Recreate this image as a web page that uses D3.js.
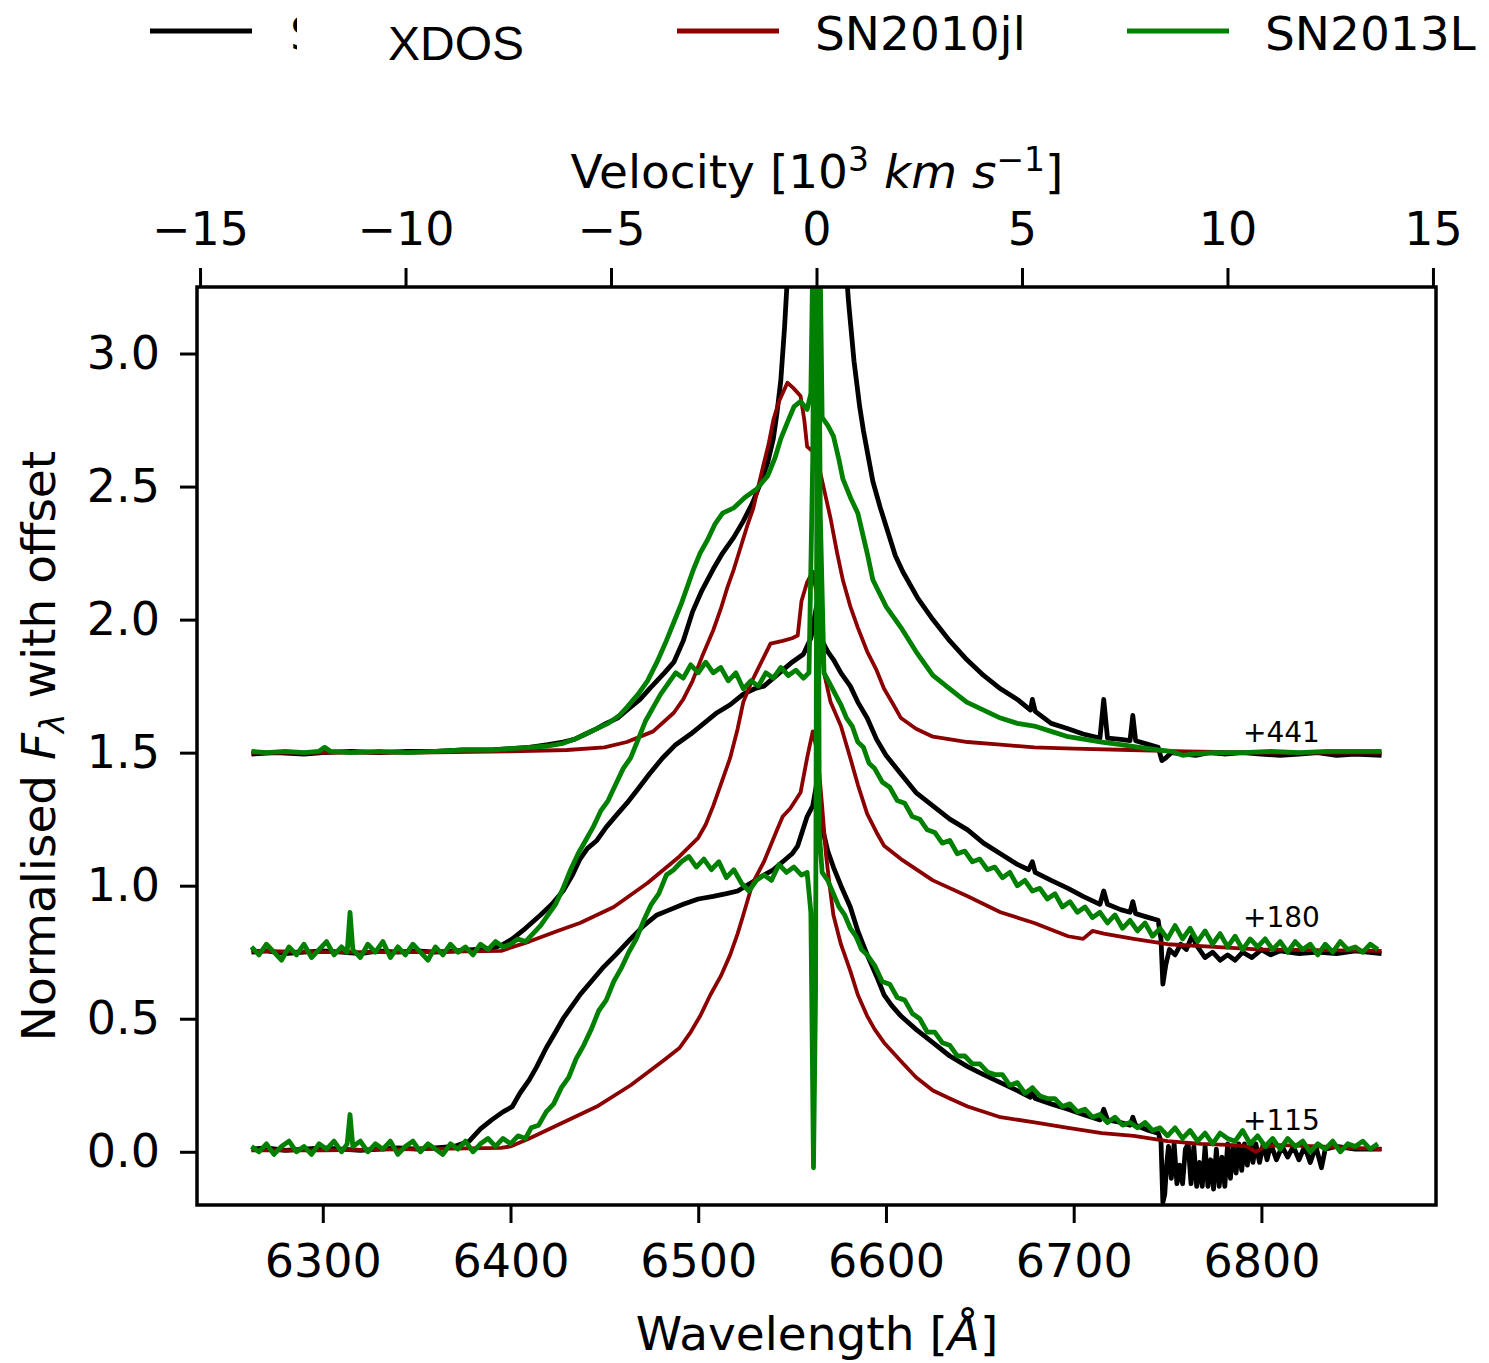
<!DOCTYPE html>
<html>
<head>
<meta charset="utf-8">
<script src="https://cdn.jsdelivr.net/npm/d3@7"></script>
<style>
body { margin: 0; background: #fff; }
text { font-family: "DejaVu Sans", sans-serif; fill: #000; }
</style>
</head>
<body>
<svg id="chart" width="1489" height="1363"></svg>
<script>
// tick values
const wavelengthTicks = [6300, 6400, 6500, 6600, 6700, 6800];
const velocityTicks = [-15, -10, -5, 0, 5, 10, 15];
const fluxTicks = [0, 0.5, 1.0, 1.5, 2.0, 2.5, 3.0];

// epoch labels (days) and where they sit
const epochLabels = ["+441", "+180", "+115"];
const epochLabelFlux = [1.54, 0.845, 0.08];

// legend names
const names = ["XDOS", "SN2010jl", "SN2013L"];

// ---- +441 d, offset 1.5 ----
const xdos441 = [[6262,1.495],[6275,1.50],[6290,1.495],[6300,1.50],[6315,1.505],[6330,1.50],[6345,1.505],[6360,1.505],[6375,1.51],[6390,1.51],[6400,1.515],[6410,1.52],[6420,1.53],[6428,1.54],[6434,1.55],[6440,1.57],[6446,1.59],[6451,1.61],[6457,1.63],[6462,1.66],[6469,1.70],[6474,1.74],[6478,1.77],[6482,1.80],[6487,1.84],[6492,1.92],[6497,2.03],[6502,2.11],[6508,2.19],[6513,2.25],[6519,2.31],[6524,2.37],[6529,2.44],[6533,2.51],[6537,2.59],[6540,2.68],[6542,2.78],[6544,2.90],[6546,3.10],[6548,3.35],[6552,3.8],[6556,4.5],[6560,5.5],[6563,6.0],[6566,5.5],[6570,4.6],[6574,3.9],[6578,3.4],[6580,3.20],[6583,2.97],[6586,2.80],[6588,2.71],[6593,2.52],[6597,2.42],[6601,2.33],[6605,2.24],[6609,2.18],[6617,2.08],[6625,2.00],[6634,1.92],[6643,1.85],[6652,1.79],[6661,1.74],[6670,1.70],[6677,1.66],[6678,1.70],[6679.5,1.655],[6688,1.61],[6697,1.59],[6705,1.57],[6714,1.555],[6716,1.70],[6718,1.555],[6725,1.55],[6730,1.545],[6731.5,1.64],[6733,1.545],[6740,1.53],[6745,1.52],[6747,1.47],[6749,1.48],[6752,1.50],[6758,1.495],[6765,1.49],[6772,1.50],[6780,1.495],[6790,1.50],[6800,1.495],[6810,1.49],[6820,1.495],[6830,1.50],[6840,1.49],[6850,1.495],[6864,1.49]];

const sn10jl441 = [[6262,1.50],[6300,1.50],[6350,1.50],[6400,1.505],[6430,1.51],[6450,1.52],[6462,1.54],[6476,1.58],[6487,1.65],[6492,1.70],[6497,1.77],[6502,1.86],[6508,1.96],[6512,2.04],[6515.5,2.12],[6519,2.19],[6522.5,2.27],[6526,2.35],[6529.4,2.42],[6532,2.50],[6534.7,2.58],[6537.5,2.66],[6540,2.75],[6543,2.82],[6547.5,2.89],[6550.7,2.87],[6554.5,2.84],[6556.5,2.75],[6558,2.65],[6561.4,2.63],[6563.5,2.60],[6566.7,2.50],[6570.5,2.38],[6574,2.25],[6577,2.15],[6581,2.05],[6585,1.97],[6590,1.88],[6595,1.81],[6599,1.74],[6604,1.68],[6608,1.63],[6616,1.59],[6625,1.56],[6643.5,1.54],[6661,1.53],[6679,1.52],[6700,1.515],[6730,1.51],[6760,1.505],[6800,1.50],[6864,1.50]];

const sn13L441 = [[6262,1.505],[6270,1.50],[6280,1.505],[6290,1.50],[6298,1.505],[6301,1.52],[6304,1.505],[6315,1.50],[6330,1.505],[6345,1.50],[6360,1.505],[6375,1.51],[6390,1.51],[6400,1.515],[6410,1.52],[6420,1.525],[6428,1.535],[6434,1.55],[6440,1.57],[6446,1.59],[6452,1.61],[6458,1.64],[6462,1.67],[6468,1.72],[6473,1.77],[6478,1.84],[6483,1.92],[6487,1.99],[6491,2.06],[6497,2.18],[6501,2.25],[6505,2.30],[6509,2.36],[6513,2.40],[6519,2.42],[6525,2.46],[6531,2.49],[6537,2.54],[6541,2.61],[6544,2.68],[6548,2.75],[6551,2.80],[6554.5,2.82],[6558,2.79],[6560,2.85],[6561.5,3.6],[6563,5.0],[6564.5,3.6],[6566,2.76],[6569,2.73],[6572,2.69],[6575,2.60],[6577,2.53],[6581,2.46],[6585,2.40],[6590,2.25],[6593,2.15],[6600,2.05],[6608,1.97],[6616,1.88],[6625,1.79],[6634,1.74],[6643,1.69],[6652,1.66],[6661,1.63],[6670,1.61],[6679,1.60],[6688,1.58],[6697,1.56],[6706,1.55],[6715,1.54],[6725,1.53],[6735,1.52],[6745,1.51],[6752,1.505],[6758,1.49],[6764,1.495],[6775,1.50],[6790,1.50],[6805,1.505],[6820,1.50],[6835,1.505],[6850,1.505],[6864,1.505]];

// ---- +180 d, offset 0.75 ----
const xdos180 = [[6262,0.75],[6270,0.755],[6280,0.745],[6290,0.75],[6300,0.755],[6310,0.75],[6320,0.745],[6330,0.755],[6340,0.75],[6350,0.755],[6360,0.75],[6370,0.755],[6380,0.76],[6390,0.765],[6395,0.775],[6401,0.80],[6408,0.84],[6416,0.89],[6422,0.93],[6428,0.98],[6433,1.04],[6437,1.10],[6441,1.14],[6446,1.17],[6451,1.22],[6457,1.27],[6462,1.31],[6467.5,1.36],[6474,1.42],[6481,1.48],[6488,1.53],[6496,1.57],[6503,1.61],[6510,1.65],[6517,1.68],[6524,1.72],[6530,1.74],[6535,1.75],[6540,1.78],[6545,1.81],[6550,1.84],[6556,1.87],[6560,1.93],[6563,2.05],[6566,1.92],[6569,1.88],[6572,1.85],[6576,1.80],[6581,1.75],[6585,1.69],[6590,1.63],[6595,1.55],[6600,1.49],[6608,1.42],[6616,1.35],[6625,1.30],[6634,1.25],[6643.5,1.21],[6652,1.16],[6661,1.12],[6670,1.08],[6676,1.06],[6678,1.09],[6679.5,1.05],[6688,1.02],[6697,0.99],[6705,0.96],[6714,0.93],[6716,0.98],[6718,0.93],[6725,0.91],[6730,0.90],[6731.5,0.94],[6733,0.895],[6740,0.88],[6745,0.87],[6746.5,0.80],[6747.5,0.63],[6749,0.70],[6751,0.76],[6754,0.74],[6757,0.78],[6760,0.76],[6763,0.81],[6766,0.77],[6770,0.73],[6774,0.75],[6778,0.72],[6782,0.74],[6786,0.72],[6790,0.75],[6795,0.73],[6800,0.76],[6805,0.74],[6810,0.755],[6820,0.745],[6830,0.75],[6840,0.745],[6850,0.755],[6864,0.745]];

const sn10jl180 = [[6262,0.755],[6300,0.75],[6350,0.75],[6395,0.755],[6410,0.79],[6425,0.83],[6437,0.86],[6455,0.92],[6473,1.01],[6490,1.11],[6500,1.18],[6504,1.23],[6508,1.30],[6512,1.38],[6517,1.48],[6521,1.59],[6524,1.69],[6528,1.76],[6531.5,1.81],[6535,1.86],[6538.5,1.91],[6545,1.92],[6550,1.93],[6553,1.94],[6555,2.07],[6558,2.14],[6561,2.18],[6563,2.10],[6565,1.95],[6567,1.80],[6570.5,1.69],[6576,1.60],[6581,1.48],[6585,1.38],[6590,1.27],[6595,1.20],[6599,1.15],[6608,1.10],[6625,1.02],[6643.5,0.96],[6661,0.90],[6679,0.86],[6697,0.81],[6705,0.80],[6710,0.83],[6716,0.82],[6732,0.80],[6750,0.78],[6775,0.77],[6800,0.76],[6864,0.755]];

const sn13L180 = [[6262,0.77],[6266,0.74],[6270,0.78],[6274,0.75],[6278,0.72],[6282,0.77],[6286,0.74],[6290,0.78],[6294,0.73],[6298,0.76],[6302,0.79],[6306,0.74],[6310,0.77],[6313,0.75],[6314.5,0.90],[6316,0.76],[6320,0.73],[6324,0.78],[6328,0.75],[6332,0.79],[6336,0.73],[6340,0.77],[6344,0.74],[6348,0.78],[6352,0.75],[6356,0.72],[6360,0.77],[6364,0.74],[6368,0.78],[6372,0.75],[6376,0.77],[6380,0.74],[6384,0.78],[6388,0.76],[6392,0.79],[6396,0.77],[6400,0.78],[6404,0.80],[6408,0.79],[6412,0.82],[6416,0.85],[6420,0.89],[6424,0.93],[6428,0.99],[6432,1.06],[6436,1.12],[6440,1.17],[6444,1.22],[6448,1.28],[6452,1.32],[6456,1.38],[6460,1.44],[6464,1.48],[6468,1.55],[6472,1.62],[6476,1.67],[6480,1.72],[6484,1.76],[6488,1.80],[6492,1.78],[6496,1.83],[6500,1.80],[6504,1.84],[6508,1.80],[6512,1.82],[6516,1.77],[6520,1.80],[6524,1.74],[6528,1.77],[6532,1.75],[6536,1.80],[6540,1.78],[6544,1.82],[6548,1.79],[6552,1.81],[6556,1.78],[6559,1.80],[6561,2.6],[6563,4.5],[6565,2.4],[6567,1.80],[6570,1.76],[6573,1.72],[6576,1.68],[6579,1.63],[6582,1.60],[6585,1.54],[6588,1.52],[6591,1.46],[6594,1.44],[6598,1.39],[6602,1.37],[6606,1.32],[6610,1.31],[6614,1.26],[6618,1.25],[6622,1.21],[6626,1.20],[6630,1.16],[6634,1.17],[6638,1.12],[6642,1.13],[6646,1.09],[6650,1.10],[6654,1.06],[6658,1.07],[6662,1.03],[6666,1.05],[6670,1.00],[6674,1.02],[6678,0.98],[6682,0.99],[6686,0.95],[6690,0.97],[6694,0.92],[6698,0.94],[6702,0.90],[6706,0.92],[6710,0.88],[6714,0.90],[6718,0.86],[6722,0.89],[6726,0.84],[6730,0.87],[6734,0.83],[6738,0.86],[6742,0.81],[6746,0.84],[6750,0.80],[6754,0.85],[6758,0.80],[6762,0.84],[6766,0.79],[6770,0.83],[6774,0.78],[6778,0.82],[6782,0.77],[6786,0.81],[6790,0.76],[6794,0.80],[6798,0.77],[6802,0.80],[6806,0.76],[6810,0.79],[6814,0.75],[6818,0.79],[6822,0.76],[6826,0.78],[6830,0.74],[6834,0.78],[6838,0.75],[6842,0.79],[6846,0.76],[6850,0.77],[6854,0.75],[6858,0.78],[6862,0.76]];

// ---- +115 d, offset 0 ----
const xdos115 = [[6262,0.01],[6270,0.015],[6280,0.005],[6290,0.01],[6300,0.015],[6310,0.01],[6320,0.005],[6330,0.01],[6340,0.015],[6350,0.01],[6360,0.015],[6370,0.02],[6378,0.04],[6384,0.086],[6390,0.12],[6396,0.15],[6401,0.17],[6405,0.22],[6410,0.27],[6414,0.32],[6419,0.39],[6424,0.45],[6428,0.50],[6433,0.55],[6437,0.59],[6443,0.64],[6449,0.69],[6456,0.74],[6464,0.80],[6471,0.85],[6478,0.89],[6485,0.91],[6492,0.93],[6500,0.95],[6508,0.96],[6515,0.97],[6521,0.98],[6528,1.01],[6535,1.04],[6540,1.06],[6545,1.09],[6550,1.12],[6553,1.15],[6558,1.26],[6561,1.30],[6563,1.38],[6566,1.22],[6569,1.13],[6572,1.07],[6576,1.00],[6581,0.92],[6585,0.83],[6590,0.74],[6595,0.66],[6599,0.59],[6603,0.55],[6608,0.51],[6616,0.46],[6625,0.41],[6634,0.36],[6643.5,0.32],[6652,0.29],[6661,0.26],[6670,0.23],[6677,0.205],[6678,0.24],[6679.5,0.20],[6688,0.18],[6697,0.16],[6705,0.14],[6714,0.12],[6716,0.16],[6718,0.12],[6725,0.11],[6730,0.10],[6731.5,0.13],[6733,0.10],[6740,0.08],[6745,0.07],[6746.5,0.04],[6747.5,-0.19],[6748.5,-0.16],[6749.5,-0.05],[6750.5,0.02],[6752,-0.10],[6753.5,0.03],[6755,-0.12],[6756.5,-0.05],[6758,-0.12],[6759.5,0.01],[6761,0.03],[6762.5,-0.12],[6764,0.02],[6765.5,-0.13],[6767,-0.04],[6768.5,-0.13],[6770,0.02],[6771.5,-0.13],[6773,-0.03],[6774.5,-0.14],[6776,0.01],[6777.5,-0.13],[6779,-0.02],[6780.5,-0.13],[6782,0.03],[6783.5,-0.10],[6785,0.02],[6786.5,-0.08],[6788,0.03],[6789.5,-0.07],[6791,0.03],[6792.5,-0.05],[6794,0.03],[6795.5,-0.04],[6797,0.03],[6799,-0.04],[6801,0.03],[6803,-0.03],[6805,0.03],[6808,-0.03],[6811,0.02],[6814,-0.02],[6817,0.02],[6820,-0.03],[6823,0.02],[6826,-0.04],[6829,0.02],[6832,-0.06],[6834,0.01],[6840,0.02],[6850,0.01],[6864,0.01]];

const sn10jl115 = [[6262,0.005],[6300,0.005],[6350,0.01],[6395,0.015],[6400,0.02],[6410,0.05],[6428,0.11],[6446,0.17],[6464,0.25],[6481,0.34],[6490,0.39],[6496,0.45],[6501,0.51],[6506.5,0.59],[6512,0.66],[6517,0.74],[6521,0.82],[6524,0.89],[6529,1.01],[6535,1.09],[6542,1.21],[6545,1.26],[6549,1.29],[6554.5,1.35],[6558,1.48],[6561,1.58],[6563.5,1.50],[6566,1.30],[6568,1.12],[6570,1.00],[6572,0.89],[6576,0.78],[6581,0.68],[6585,0.59],[6590,0.51],[6594,0.46],[6599,0.41],[6608,0.34],[6616,0.28],[6625,0.23],[6634,0.20],[6643.5,0.17],[6661,0.13],[6680,0.11],[6697,0.09],[6715,0.07],[6732,0.06],[6750,0.04],[6768,0.03],[6785,0.025],[6792,0.02],[6797,0.00],[6802,0.02],[6810,0.025],[6830,0.02],[6864,0.01]];

const sn13L115 = [[6262,0.02],[6266,0.00],[6270,0.03],[6274,-0.01],[6278,0.02],[6282,0.04],[6286,0.00],[6290,0.02],[6294,-0.01],[6298,0.03],[6302,0.01],[6306,0.04],[6310,0.00],[6313,0.03],[6314.5,0.14],[6316,0.02],[6320,0.04],[6324,0.00],[6328,0.03],[6332,0.01],[6336,0.04],[6340,-0.01],[6344,0.02],[6348,0.04],[6352,0.00],[6356,0.03],[6360,0.01],[6364,-0.01],[6368,0.03],[6372,0.01],[6376,0.04],[6380,0.00],[6384,0.03],[6388,0.05],[6392,0.02],[6396,0.05],[6400,0.03],[6404,0.06],[6408,0.05],[6411,0.09],[6415,0.10],[6419,0.15],[6423,0.18],[6427,0.24],[6431,0.28],[6435,0.35],[6439,0.40],[6443,0.46],[6447,0.53],[6451,0.57],[6455,0.64],[6459,0.69],[6463,0.75],[6467,0.80],[6471,0.87],[6475,0.93],[6479,0.97],[6483,1.04],[6487,1.06],[6491,1.09],[6495,1.11],[6499,1.07],[6503,1.10],[6507,1.06],[6511,1.09],[6515,1.03],[6519,1.06],[6523,1.01],[6527,0.98],[6531,1.02],[6535,1.04],[6539,1.02],[6543,1.08],[6547,1.05],[6551,1.07],[6555,1.04],[6558,1.05],[6560,0.90],[6561.4,-0.06],[6562.5,0.60],[6563.5,3.4],[6564.5,1.2],[6566,1.05],[6569,1.02],[6572,0.97],[6575,0.92],[6578,0.89],[6581,0.84],[6584,0.81],[6587,0.76],[6590,0.74],[6594,0.70],[6598,0.64],[6602,0.63],[6606,0.58],[6610,0.57],[6614,0.52],[6618,0.50],[6622,0.45],[6626,0.45],[6630,0.41],[6634,0.40],[6638,0.36],[6642,0.36],[6646,0.33],[6650,0.33],[6654,0.30],[6658,0.29],[6662,0.29],[6666,0.25],[6670,0.26],[6674,0.22],[6678,0.24],[6682,0.21],[6686,0.20],[6690,0.20],[6694,0.17],[6698,0.18],[6702,0.15],[6706,0.16],[6710,0.13],[6714,0.14],[6718,0.11],[6722,0.13],[6726,0.10],[6730,0.11],[6734,0.09],[6738,0.11],[6742,0.08],[6746,0.09],[6750,0.06],[6754,0.09],[6758,0.05],[6762,0.08],[6766,0.04],[6770,0.07],[6774,0.03],[6778,0.07],[6782,0.05],[6786,0.04],[6790,0.08],[6794,0.03],[6798,0.06],[6802,0.02],[6806,0.05],[6810,0.01],[6814,0.05],[6818,0.02],[6822,0.04],[6826,0.00],[6830,0.03],[6834,0.01],[6838,0.04],[6842,0.00],[6846,0.03],[6850,0.02],[6854,0.04],[6858,0.01],[6862,0.03]];

const colors = ["#000000", "#8b0000", "#008000"];

const svg = d3.select("#chart");

// scales: wavelength at bottom, H-alpha velocity on top
const x = d3.scaleLinear().domain([6233, 6893]).range([197, 1436]);
const y = d3.scaleLinear().domain([-0.2, 3.25]).range([1205, 287]);
const lam0 = 6563, cKms = 299792.458;
const v = d3.scaleLinear()
  .domain(x.domain().map(l => (l - lam0) / lam0 * cKms / 1000))
  .range(x.range());

svg.append("defs").append("clipPath").attr("id", "plot")
  .append("rect").attr("x", 197).attr("y", 287).attr("width", 1239).attr("height", 918);

// spectra: all black, then red, then green
const series = [
  {data: xdos441, c: 0}, {data: xdos180, c: 0}, {data: xdos115, c: 0},
  {data: sn10jl441, c: 1}, {data: sn10jl180, c: 1}, {data: sn10jl115, c: 1},
  {data: sn13L441, c: 2}, {data: sn13L180, c: 2}, {data: sn13L115, c: 2}
];
const line = d3.line().x(d => x(d[0])).y(d => y(d[1]));

svg.append("g").attr("clip-path", "url(#plot)")
  .selectAll("path").data(series).enter().append("path")
  .attr("d", d => line(d.data))
  .attr("fill", "none")
  .attr("stroke", d => colors[d.c])
  .attr("stroke-width", d => d.c === 1 ? 3.8 : 4.8)
  .attr("stroke-linejoin", "round");

// epoch labels
svg.selectAll(".epoch").data(epochLabels).enter().append("text")
  .attr("class", "epoch")
  .attr("x", 1243)
  .attr("y", (d, i) => y(epochLabelFlux[i]))
  .style("font-size", "28px")
  .text(d => d);

// axes
function styleAxis(g) {
  g.select(".domain").remove();
  g.selectAll(".tick line").attr("stroke", "#000").attr("stroke-width", 3);
  g.selectAll(".tick text").style("font-family", "DejaVu Sans").style("font-size", "46px").attr("fill", "#000");
}

svg.append("g").attr("transform", "translate(0,1205)")
  .call(d3.axisBottom(x).tickValues(wavelengthTicks).tickFormat(d3.format("d")).tickSize(18).tickPadding(21))
  .call(styleAxis);

svg.append("g").attr("transform", "translate(0,287)")
  .call(d3.axisTop(v).tickValues(velocityTicks).tickSize(19).tickPadding(23))
  .call(styleAxis);

svg.append("g").attr("transform", "translate(197,0)")
  .call(d3.axisLeft(y).tickValues(fluxTicks).tickFormat(d3.format(".1f")).tickSize(17).tickPadding(20))
  .call(styleAxis);

// frame
svg.append("rect").attr("x", 197).attr("y", 287).attr("width", 1239).attr("height", 918)
  .attr("fill", "none").attr("stroke", "#000").attr("stroke-width", 3.5);

// axis titles
svg.append("text").attr("x", 817).attr("y", 1350).attr("text-anchor", "middle")
  .style("font-size", "47px")
  .call(t => {
    t.append("tspan").text("Wavelength [");
    t.append("tspan").style("font-style", "italic").text("Å");
    t.append("tspan").text("]");
  });

svg.append("text").attr("x", 817).attr("y", 188).attr("text-anchor", "middle")
  .style("font-size", "47px")
  .call(t => {
    t.append("tspan").text("Velocity [10");
    t.append("tspan").attr("dy", -17).style("font-size", "33px").text("3");
    t.append("tspan").attr("dy", 17).text(" ");
    t.append("tspan").style("font-style", "italic").text("km s");
    t.append("tspan").attr("dy", -17).style("font-size", "33px").text("−1");
    t.append("tspan").attr("dy", 17).text("]");
  });

svg.append("text").attr("transform", "translate(55,746) rotate(-90)").attr("text-anchor", "middle")
  .style("font-size", "47px")
  .call(t => {
    t.append("tspan").text("Normalised ");
    t.append("tspan").style("font-style", "italic").text("F");
    t.append("tspan").attr("dy", 9).style("font-size", "33px").style("font-style", "italic").text("λ");
    t.append("tspan").attr("dy", -9).text(" with offset");
  });

// legend
const legendX = [150, 677, 1127];
const legend = svg.append("g");
legend.selectAll("line").data(colors).enter().append("line")
  .attr("x1", (d, i) => legendX[i]).attr("x2", (d, i) => legendX[i] + 102)
  .attr("y1", 31).attr("y2", 31)
  .attr("stroke", d => d).attr("stroke-width", 5);

// first entry: original label covered, only a sliver of "S" shows
legend.append("clipPath").attr("id", "sliver")
  .append("rect").attr("x", 288).attr("y", 0).attr("width", 9).attr("height", 80);
legend.append("text").attr("x", 290).attr("y", 50).attr("clip-path", "url(#sliver)")
  .style("font-size", "47px").text("S");
legend.append("text").attr("x", 388).attr("y", 60)
  .style("font-family", "Liberation Sans").style("font-size", "48px").text(names[0]);
legend.append("text").attr("x", 815).attr("y", 50).style("font-size", "47px").text(names[1]);
legend.append("text").attr("x", 1265).attr("y", 50).style("font-size", "47px").text(names[2]);
</script>
</body>
</html>
